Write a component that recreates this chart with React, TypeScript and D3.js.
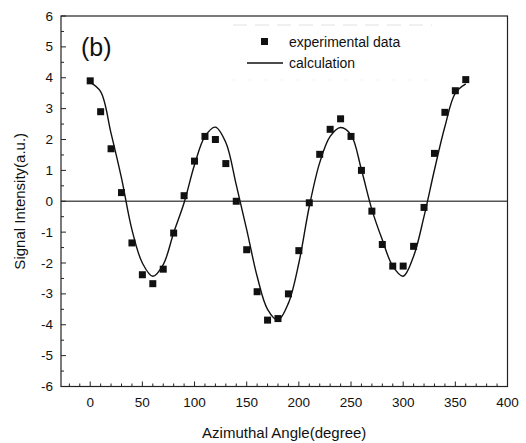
import React from "react";
import * as d3 from "d3";

const angles = [0,10,20,30,40,50,60,70,80,90,100,110,120,130,140,150,160,170,180,190,200,210,220,230,240,250,260,270,280,290,300,310,320,330,340,350,360];
const experimental = [3.9,2.9,1.7,0.28,-1.35,-2.38,-2.67,-2.2,-1.03,0.18,1.3,2.1,2.0,1.22,0.0,-1.57,-2.93,-3.85,-3.8,-3.0,-1.6,-0.05,1.52,2.33,2.67,2.1,1.0,-0.32,-1.4,-2.1,-2.1,-1.46,-0.2,1.55,2.88,3.58,3.94];
const calculation = [3.85,3.55,2.2,0.75,-0.92,-2.0,-2.43,-2.05,-1.02,-0.05,1.18,2.1,2.4,1.9,0.53,-0.92,-2.43,-3.5,-3.85,-3.3,-2.0,-0.17,1.25,2.1,2.39,2.15,1.02,-0.27,-1.25,-2.1,-2.43,-1.78,-0.49,1.02,2.42,3.5,3.8];
const xTicks = [0,50,100,150,200,250,300,350,400];
const yTicks = [-6,-5,-4,-3,-2,-1,0,1,2,3,4,5,6];

const W = 526, H = 443;
const L = 61, R = 507.5, T = 16, B = 386.5;
const FONT = "'Liberation Sans', Arial, sans-serif";

export default function App() {
  const x = d3.scaleLinear().domain([-28, 400]).range([L, R]);
  const y = d3.scaleLinear().domain([-6, 6]).range([B, T]);
  const line = d3.line<number>()
    .x((_, i) => x(angles[i]))
    .y((d) => y(d))
    .curve(d3.curveCatmullRom.alpha(0.5));
  const xMinor = d3.range(-20, 400, 10).filter((v) => v % 50 !== 0);
  const yMinor = d3.range(-5.5, 6, 1);
  const ms = 7;
  return (
    <svg width={W} height={H} style={{ position: "absolute", left: 0, top: 0, background: "#fff" }} fontFamily={FONT}>
      <rect x={0} y={0} width={W} height={H} fill="#fff" />
      {/* zero line */}
      <line x1={L} x2={R} y1={y(0)} y2={y(0)} stroke="#555" strokeWidth={1.6} />
      {/* faint legend frame */}
      <line x1={233} x2={432} y1={25} y2={25} stroke="#d4d4d4" strokeWidth={0.7} strokeDasharray="14 8" />
      <line x1={233} x2={432} y1={80} y2={80} stroke="#e6e6e6" strokeWidth={0.7} strokeDasharray="2 14" />
      {/* frame */}
      <rect x={L} y={T} width={R - L} height={B - T} fill="none" stroke="#222" strokeWidth={1.2} />
      {/* x ticks */}
      {xTicks.map((t) => (
        <g key={"xt" + t}>
          <line x1={x(t)} x2={x(t)} y1={B} y2={B - 5} stroke="#222" strokeWidth={1} />
          <text x={x(t)} y={407} textAnchor="middle" fontSize={13.5} fill="#111">{t}</text>
        </g>
      ))}
      {xMinor.map((t) => (
        <line key={"xm" + t} x1={x(t)} x2={x(t)} y1={B} y2={B - 3} stroke="#222" strokeWidth={1} />
      ))}
      {/* y ticks */}
      {yTicks.map((t) => (
        <g key={"yt" + t}>
          <line x1={L} x2={L + 5} y1={y(t)} y2={y(t)} stroke="#222" strokeWidth={1} />
          <text x={53} y={y(t) + 4.5} textAnchor="end" fontSize={13.5} fill="#111">{t}</text>
        </g>
      ))}
      {yMinor.map((t) => (
        <line key={"ym" + t} x1={L} x2={L + 3} y1={y(t)} y2={y(t)} stroke="#222" strokeWidth={1} />
      ))}
      {/* calculation curve */}
      <path d={line(calculation) || ""} fill="none" stroke="#111" strokeWidth={1.4} />
      {/* experimental points */}
      {experimental.map((v, i) => (
        <rect key={"p" + i} x={x(angles[i]) - ms / 2} y={y(v) - ms / 2} width={ms} height={ms} fill="#111" />
      ))}
      {/* legend */}
      <rect x={261} y={38} width={ms} height={ms} fill="#111" />
      <text x={289} y={47} fontSize={14} fill="#111">experimental data</text>
      <line x1={247} x2={283} y1={63} y2={63} stroke="#111" strokeWidth={1.4} />
      <text x={289} y={68} fontSize={14} fill="#111">calculation</text>
      {/* panel label */}
      <text x={81} y={56} fontSize={25} fill="#111">(b)</text>
      {/* axis titles */}
      <text x={(L + R) / 2} y={438} textAnchor="middle" fontSize={15} fill="#111">Azimuthal Angle(degree)</text>
      <text transform={`translate(25,${y(0)}) rotate(-90)`} textAnchor="middle" fontSize={15} fill="#111">Signal Intensity(a.u.)</text>
    </svg>
  );
}
